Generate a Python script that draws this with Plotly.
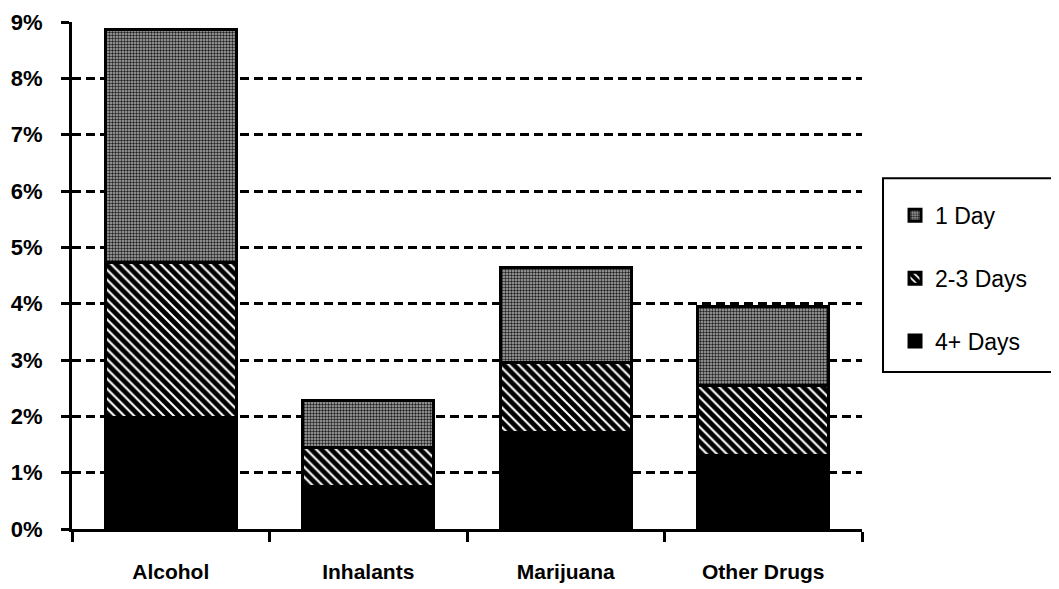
import plotly.graph_objects as go

categories = ["Alcohol", "Inhalants", "Marijuana", "Other Drugs"]
days_4plus = [1.98, 0.75, 1.72, 1.31]
days_2to3 = [2.75, 0.69, 1.24, 1.24]
days_1 = [4.14, 0.85, 1.69, 1.40]
y_ticks = [0, 1, 2, 3, 4, 5, 6, 7, 8, 9]

fig = go.Figure()
fig.add_trace(go.Bar(
    x=categories, y=days_4plus, name="4+ Days", legendgroup="c", legendrank=3,
    marker=dict(color="#000000", line=dict(color="#000000", width=3)),
))
fig.add_trace(go.Bar(
    x=categories, y=days_2to3, name="2-3 Days", legendgroup="b", legendrank=2,
    marker=dict(color="#000000", line=dict(color="#000000", width=3),
                pattern=dict(shape="\\", fgcolor="#000000", bgcolor="#ffffff",
                             size=7, solidity=0.7, fillmode="replace")),
))
fig.add_trace(go.Bar(
    x=categories, y=days_1, name="1 Day", legendgroup="a", legendrank=1,
    marker=dict(color="#909090", line=dict(color="#000000", width=3),
                pattern=dict(shape=".", fgcolor="#202020", bgcolor="#b0b0b0",
                             size=3, solidity=0.5, fillmode="replace")),
))

fig.update_layout(
    width=1059, height=589,
    margin=dict(l=64, r=205, t=14, b=68, autoexpand=False),
    paper_bgcolor="#ffffff", plot_bgcolor="#ffffff",
    barmode="stack", bargap=0.337,
    font=dict(family="Liberation Sans, Arial, sans-serif", color="#000000"),
    showlegend=True,
    legend=dict(
        x=1.0418, y=0.661, xanchor="left", yanchor="top",
        traceorder="grouped", tracegroupgap=30,
        font=dict(size=23, color="#000000"),
        bgcolor="rgba(0,0,0,0)", borderwidth=0,
    ),
    shapes=[dict(
        type="rect", xref="paper", yref="paper",
        x0=1.0266, x1=1.2418, y0=0.3097, y1=0.692,
        line=dict(color="#000000", width=2), fillcolor="rgba(0,0,0,0)",
    )],
)

fig.update_xaxes(
    automargin=False,
    showline=True, linecolor="#000000", linewidth=3,
    ticks="outside", tickson="boundaries", ticklen=10, tickwidth=3, tickcolor="#000000",
    tickfont=dict(size=21, family="Liberation Sans, Arial, sans-serif", weight="bold"),
    ticklabelstandoff=22,
    showgrid=False,
)
fig.update_yaxes(
    automargin=False,
    range=[0, 9], tickvals=y_ticks, ticktext=[f"{v}%" for v in y_ticks],
    showline=True, linecolor="#000000", linewidth=3,
    ticks="outside", ticklen=8, tickwidth=3, tickcolor="#000000",
    tickfont=dict(size=22, family="Liberation Sans, Arial, sans-serif", weight="bold"),
    ticklabelstandoff=14,
    showgrid=True, gridcolor="#000000", gridwidth=3, griddash="9px,5px",
    zeroline=False,
)

fig.write_html("out.html")
